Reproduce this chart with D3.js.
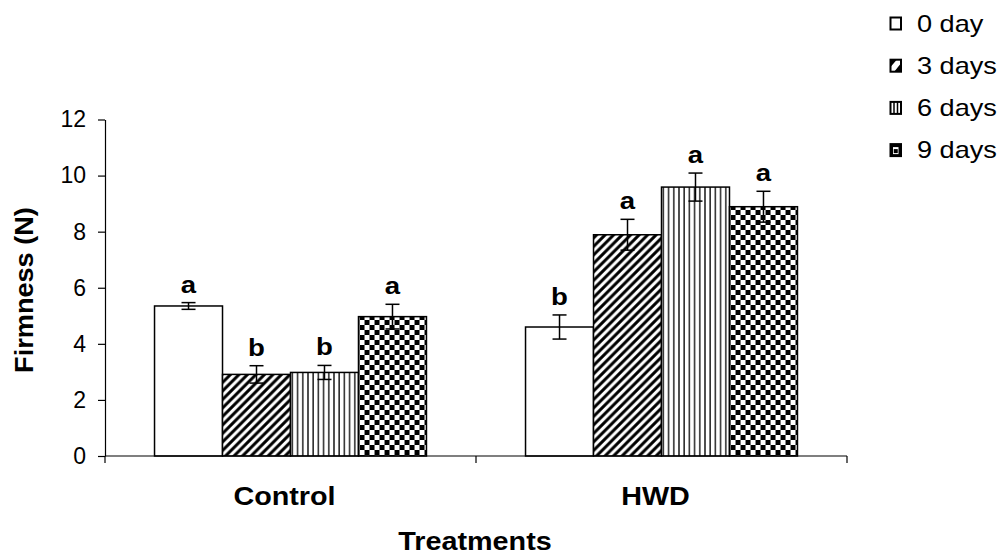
<!DOCTYPE html>
<html><head><meta charset="utf-8">
<script src="https://cdn.jsdelivr.net/npm/d3@7"></script>
<style>body{margin:0;background:#fff}svg{display:block}</style>
</head><body>
<svg id="c" width="1004" height="557"></svg>
<script>
const groups = ["Control", "HWD"];
const series = ["0 day", "3 days", "6 days", "9 days"];
const controlMeans = [5.35, 2.91, 2.98, 4.97];
const controlErr = [0.12, 0.31, 0.25, 0.44];
const controlLetters = ["a", "b", "b", "a"];
const hwdMeans = [4.60, 7.89, 9.59, 8.89];
const hwdErr = [0.43, 0.55, 0.50, 0.55];
const hwdLetters = ["b", "a", "a", "a"];
const yTicks = [0, 2, 4, 6, 8, 10, 12];

const data = [
  {g: "Control", means: controlMeans, errs: controlErr, letters: controlLetters},
  {g: "HWD", means: hwdMeans, errs: hwdErr, letters: hwdLetters}
];

const svg = d3.select("#c");
const font = "'Liberation Sans', Arial, sans-serif";
const defs = svg.append("defs");
const p1 = defs.append("pattern").attr("id","pDiag").attr("patternUnits","userSpaceOnUse")
  .attr("width",8.5).attr("height",8.5);
p1.append("rect").attr("width",8.5).attr("height",8.5).attr("fill","#fff");
p1.append("path").attr("d","M-2,2 L2,-2 M0,8.5 L8.5,0 M6.5,10.5 L10.5,6.5").attr("stroke","#000").attr("stroke-width",3);
const p2 = defs.append("pattern").attr("id","pVert").attr("patternUnits","userSpaceOnUse")
  .attr("width",5.2).attr("height",10);
p2.append("rect").attr("width",5.2).attr("height",10).attr("fill","#fff");
p2.append("rect").attr("x",2).attr("width",1.3).attr("height",10).attr("fill","#000");
const p3 = defs.append("pattern").attr("id","pCheck").attr("patternUnits","userSpaceOnUse")
  .attr("width",10).attr("height",10);
p3.append("rect").attr("width",10).attr("height",10).attr("fill","#fff");
p3.append("rect").attr("x",0).attr("y",0).attr("width",5).attr("height",5).attr("fill","#000");
p3.append("rect").attr("x",5).attr("y",5).attr("width",5).attr("height",5).attr("fill","#000");
const fills = ["#fff", "url(#pDiag)", "url(#pVert)", "url(#pCheck)"];

const x0 = d3.scaleBand().domain(groups).range([105, 847]).paddingInner(0.267).paddingOuter(0.1335);
const x1 = d3.scaleBand().domain(series).range([0, x0.bandwidth()]);
const y = d3.scaleLinear().domain([0, 12]).range([456, 119.5]);

function sText(parent, x, yy, txt, size, bold, sx, anchor) {
  return parent.append("text").attr("transform", `translate(${x},${yy}) scale(${sx},1)`)
    .attr("text-anchor", anchor || "middle").attr("font-family", font)
    .attr("font-weight", bold ? "bold" : "normal").attr("font-size", size).attr("fill","#000").text(txt);
}

// y axis
const yAxis = svg.append("g").attr("transform","translate(105,0)")
  .call(d3.axisLeft(y).tickValues(yTicks).tickSize(7).tickPadding(12).tickSizeOuter(0));
yAxis.select(".domain").attr("stroke","#000").attr("stroke-width",1.2);
yAxis.selectAll(".tick line").attr("stroke","#000").attr("stroke-width",1.2);
yAxis.selectAll("text").attr("font-family",font).attr("font-size",23).attr("fill","#000");

// bars
const gg = svg.selectAll(".grp").data(data).join("g").attr("class","grp")
  .attr("transform", d => `translate(${x0(d.g)},0)`);
gg.each(function(d){
  const g = d3.select(this);
  series.forEach((s,i) => {
    const v = d.means[i], e = d.errs[i];
    const bx = x1(s), bw = x1.bandwidth();
    g.append("rect").attr("x",bx).attr("y",y(v)).attr("width",bw).attr("height",y(0)-y(v))
      .attr("fill",fills[i]).attr("stroke","#000").attr("stroke-width",1.5);
    const cx = bx + bw/2;
    g.append("line").attr("x1",cx).attr("x2",cx).attr("y1",y(v+e)).attr("y2",y(v-e)).attr("stroke","#000").attr("stroke-width",1.5);
    [v+e, v-e].forEach(t => g.append("line").attr("x1",cx-7).attr("x2",cx+7).attr("y1",y(t)).attr("y2",y(t)).attr("stroke","#000").attr("stroke-width",1.5));
    sText(g, cx, y(v+e)-10, d.letters[i], 23, true, 1.2);
  });
});

// x axis
const xAxis = svg.append("g").attr("transform","translate(0,456)");
xAxis.append("line").attr("x1",105).attr("x2",847).attr("stroke","#000").attr("stroke-width",1.2);
const bounds = [105, (x0("Control")+x0("HWD")+x0.bandwidth())/2, 847];
bounds.forEach(b => xAxis.append("line").attr("x1",b).attr("x2",b).attr("y1",0).attr("y2",7).attr("stroke","#000").attr("stroke-width",1.2));
groups.forEach(gname => sText(svg, x0(gname)+x0.bandwidth()/2 - 6, 505, gname, 25, true, 1.15));
sText(svg, 475, 550, "Treatments", 25, true, 1.15);
svg.append("text").attr("transform","translate(33,290) rotate(-90) scale(1.085,1)").attr("text-anchor","middle")
  .attr("font-family",font).attr("font-weight","bold").attr("font-size",25).text("Firmness (N)");

// legend
const leg = svg.append("g");
series.forEach((s,i) => {
  const cy = 23.5 + i*42.2;
  const bx = 890.5, by = cy - 6, w = 10.5, h = 12;
  const k = leg.append("g").attr("transform",`translate(${bx},${by})`);
  if (i === 0) {
    k.append("rect").attr("width",w).attr("height",h).attr("fill","#fff");
  } else if (i === 1) {
    k.append("rect").attr("width",w).attr("height",h).attr("fill","#fff");
    k.append("path").attr("d",`M0,0 L${w*0.6},0 L0,${h*0.6}Z M${w},${h} L${w*0.35},${h} L${w},${h*0.3}Z`).attr("fill","#000");
  } else if (i === 2) {
    k.append("rect").attr("width",w).attr("height",h).attr("fill","#fff");
    [w/3, 2*w/3].forEach(lx => k.append("line").attr("x1",lx).attr("x2",lx).attr("y1",0).attr("y2",h).attr("stroke","#000").attr("stroke-width",1.5));
  } else {
    k.append("rect").attr("width",w).attr("height",h).attr("fill","#000");
    k.append("rect").attr("x",2.5).attr("y",3).attr("width",w-5).attr("height",h-5).attr("fill","#fff");
    k.append("rect").attr("x",w/2-2).attr("y",h/2-1).attr("width",4).attr("height",4).attr("fill","#000");
  }
  k.append("rect").attr("width",w).attr("height",h).attr("fill","none").attr("stroke","#000").attr("stroke-width",2);
  sText(leg, 917, cy+8, s, 23, false, 1.18, "start");
});
</script>
</body></html>
